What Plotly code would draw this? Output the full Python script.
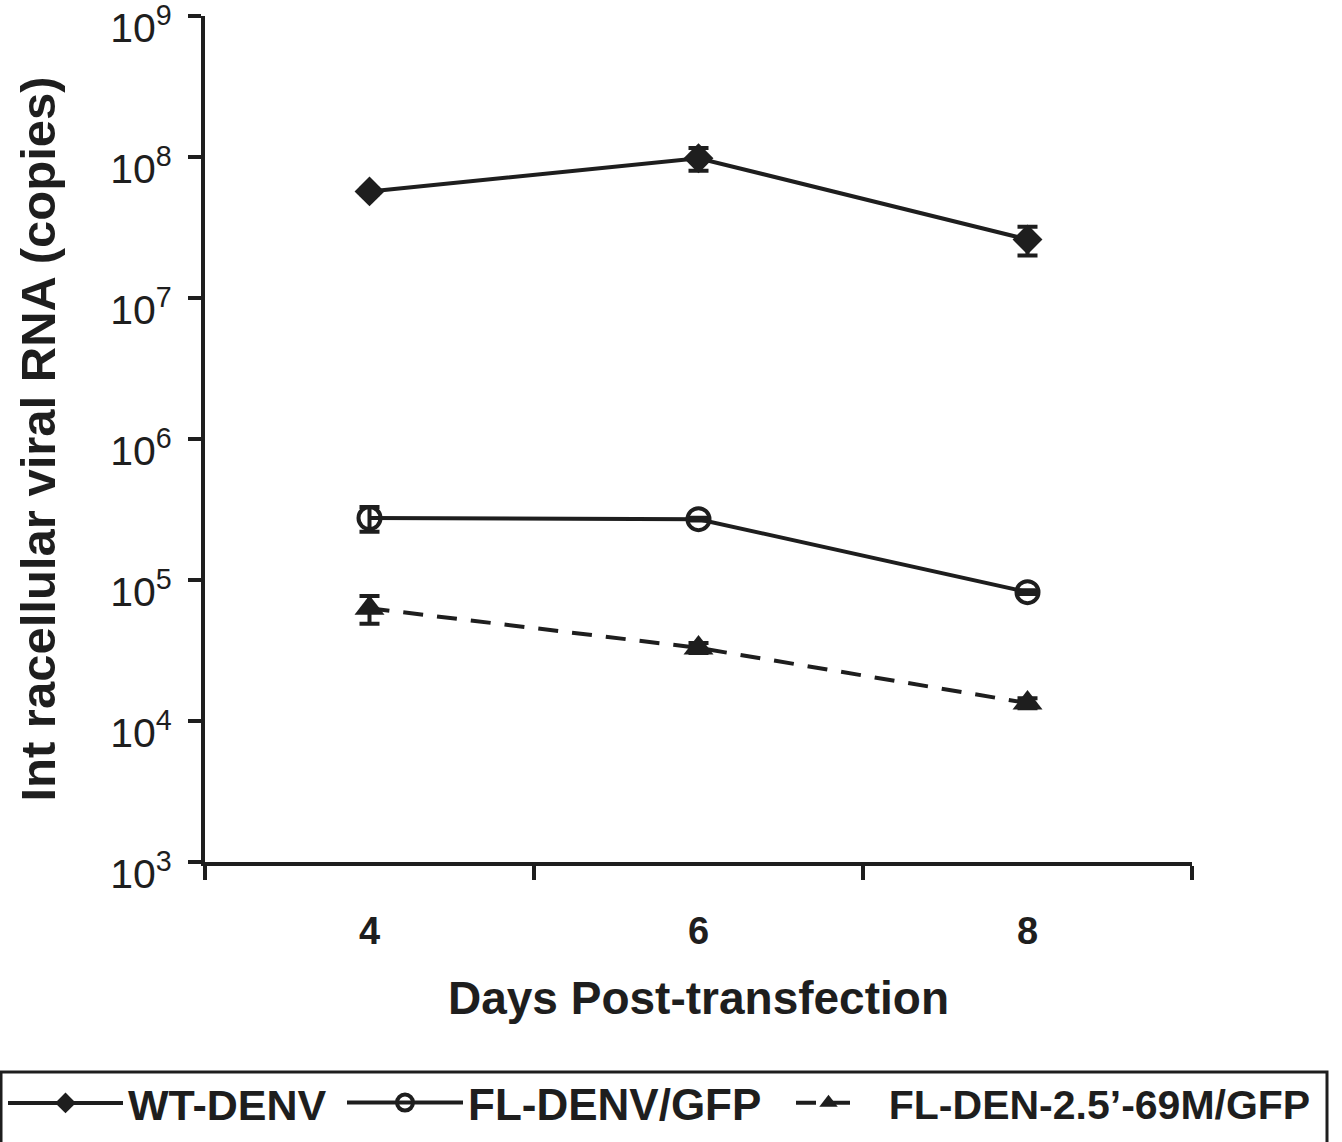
import plotly.graph_objects as go

days = ["4", "6", "8"]
wt_denv = [5.7e7, 9.8e7, 2.6e7]
wt_err = [2.5e6, 1.8e7, 6.0e6]
fl_denv_gfp = [2.75e5, 2.7e5, 8.2e4]
fl_err = [5.5e4, 6.0e3, 2.5e3]
fl_mut_gfp = [6.3e4, 3.3e4, 1.34e4]
mut_err = [1.4e4, 2.7e3, 1.1e3]

y_tickvals = [1e3, 1e4, 1e5, 1e6, 1e7, 1e8, 1e9]
y_ticktext = ["10<sup>3</sup>", "10<sup>4</sup>", "10<sup>5</sup>", "10<sup>6</sup>",
              "10<sup>7</sup>", "10<sup>8</sup>", "10<sup>9</sup>"]

INK = "#1e1e1e"
W, H = 1342, 1142
ML, MR, MT, MB = 205, 150, 16, 280
PW, PH = W - ML - MR, H - MT - MB


def px_x(p):
    return (p - ML) / PW


def px_y(p):
    return (H - MB - p) / PH


def err(vals):
    return dict(type="data", array=vals, symmetric=True, color=INK, thickness=4, width=10)


fig = go.Figure()
fig.add_trace(go.Scatter(
    x=days, y=wt_denv, name="WT-DENV", mode="lines+markers", legend="legend",
    line=dict(color=INK, width=4),
    marker=dict(symbol="diamond", size=23, color=INK),
    error_y=err(wt_err)))
fig.add_trace(go.Scatter(
    x=days, y=fl_denv_gfp, name="FL-DENV/GFP", mode="lines+markers", legend="legend2",
    line=dict(color=INK, width=4),
    marker=dict(symbol="circle-open", size=22, color=INK, line=dict(width=4, color=INK)),
    error_y=err(fl_err)))
fig.add_trace(go.Scatter(
    x=days, y=fl_mut_gfp, name="\u00a0\u00a0FL-DEN-2.5\u2019-69M/GFP", mode="lines+markers",
    legend="legend3",
    line=dict(color=INK, width=4, dash="20px,14px"),
    marker=dict(symbol="triangle-up", size=26, color=INK),
    error_y=err(mut_err)))


def leg(xpx, itemw, size):
    return dict(orientation="h", x=px_x(xpx), xanchor="left", y=px_y(1103), yanchor="middle",
                borderwidth=0, bgcolor="rgba(0,0,0,0)", itemwidth=itemw,
                font=dict(family="Liberation Sans, Arial, sans-serif", size=size, color=INK, weight="bold"))


fig.update_layout(
    width=W, height=H,
    margin=dict(l=ML, r=MR, t=MT, b=MB, autoexpand=False),
    paper_bgcolor="white", plot_bgcolor="white",
    font=dict(family="Liberation Sans, Arial, sans-serif", color=INK),
    showlegend=True,
    legend=leg(3, 115, 43),
    legend2=leg(342, 116, 44),
    legend3=leg(791, 65, 41),
    xaxis=dict(
        type="category", range=[-0.5, 2.5], tickson="boundaries",
        showline=True, linecolor=INK, linewidth=4,
        ticks="outside", ticklen=14, tickwidth=4, tickcolor=INK,
        showgrid=False, zeroline=False, ticklabelstandoff=32,
        tickfont=dict(size=38, weight="bold", color=INK),
        title=dict(text="Days Post-transfection", font=dict(size=46, weight="bold", color=INK), standoff=32),
    ),
    yaxis=dict(
        type="log", range=[3, 9],
        tickvals=y_tickvals, ticktext=y_ticktext,
        showline=True, linecolor=INK, linewidth=4,
        ticks="outside", ticklen=13, tickwidth=4, tickcolor=INK,
        showgrid=False, zeroline=False,
        ticklabelstandoff=8, ticklabelshift=12, ticklabeloverflow="allow",
        tickfont=dict(size=41, color=INK),
        title=dict(text="Int racellular viral RNA (copies)", font=dict(size=49, weight="bold", color=INK), standoff=40),
    ),
    shapes=[dict(type="rect", xref="paper", yref="paper",
                 x0=px_x(1), x1=px_x(1327), y0=px_y(1072), y1=px_y(1200),
                 line=dict(color=INK, width=3), fillcolor="rgba(0,0,0,0)", layer="above")],
)

fig.write_html("out.html", config={"displayModeBar": False},
               post_script="document.body.style.margin='0';")
